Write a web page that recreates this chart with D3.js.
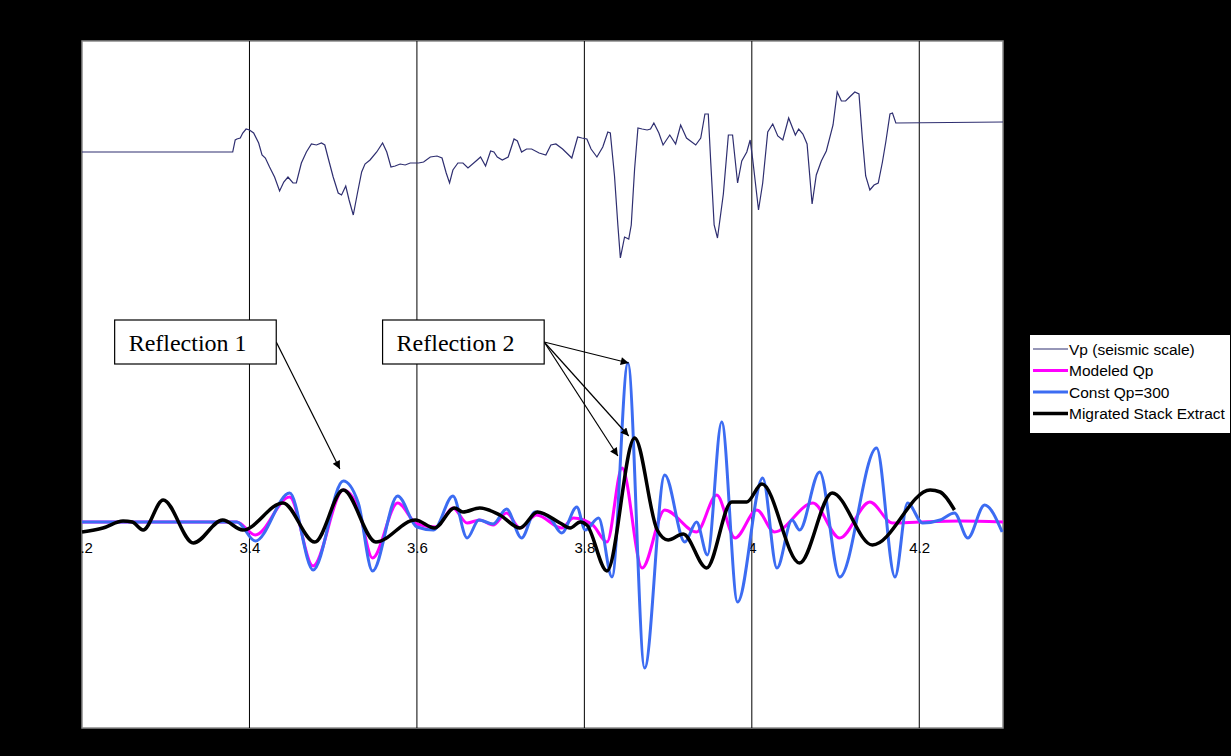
<!DOCTYPE html>
<html><head>
<meta charset="utf-8">
<script src="https://d3js.org/d3.v7.min.js"></script>
<style>
  body { margin: 0; background: #000; }
  .grid line { stroke: #000; stroke-width: 1px; }
  .xlabels text { font-family: Arial, "Liberation Sans", sans-serif; font-size: 15px; fill: #000; }
  .legend text { font-family: Arial, "Liberation Sans", sans-serif; font-size: 15.5px; fill: #000; }
  .note text { font-family: "Times New Roman", "Liberation Serif", serif; font-size: 24px; fill: #000; }
</style>
</head>
<body>
<svg id="chart" width="1231" height="756"></svg>
<script>

// time axis (s)
const timeTicks = [3.2, 3.4, 3.6, 3.8, 4.0, 4.2];
const gridTimes = [3.4, 3.6, 3.8, 4.0, 4.2];

const seriesNames = ["Vp (seismic scale)", "Modeled Qp", "Const Qp=300", "Migrated Stack Extract"];

// Vp log, drawn on the seismic amplitude scale  [time, value]
const vpLog = [
  [3.200, 3.70], [3.380, 3.70], [3.383, 3.82], [3.385, 3.83], [3.389, 3.84], [3.392, 3.89],
  [3.396, 3.93], [3.400, 3.92], [3.405, 3.89], [3.411, 3.79], [3.415, 3.67], [3.419, 3.64],
  [3.424, 3.55], [3.430, 3.45], [3.436, 3.31], [3.441, 3.40], [3.446, 3.45], [3.452, 3.39],
  [3.456, 3.39], [3.462, 3.59], [3.468, 3.70], [3.474, 3.78], [3.480, 3.77], [3.486, 3.79],
  [3.490, 3.77], [3.494, 3.64], [3.500, 3.45], [3.506, 3.29], [3.510, 3.27], [3.515, 3.36],
  [3.519, 3.22], [3.524, 3.07], [3.529, 3.29], [3.534, 3.50], [3.538, 3.58], [3.544, 3.62],
  [3.552, 3.70], [3.559, 3.79], [3.564, 3.70], [3.569, 3.55], [3.574, 3.56], [3.580, 3.58],
  [3.586, 3.57], [3.592, 3.59], [3.598, 3.59], [3.602, 3.59], [3.608, 3.60], [3.616, 3.65],
  [3.624, 3.66], [3.630, 3.64], [3.635, 3.49], [3.639, 3.39], [3.643, 3.52], [3.649, 3.59],
  [3.655, 3.59], [3.661, 3.54], [3.672, 3.62], [3.676, 3.65], [3.682, 3.56], [3.688, 3.71],
  [3.692, 3.70], [3.696, 3.65], [3.702, 3.62], [3.709, 3.65], [3.716, 3.83], [3.720, 3.81],
  [3.725, 3.70], [3.731, 3.73], [3.737, 3.73], [3.746, 3.69], [3.754, 3.67], [3.760, 3.77],
  [3.766, 3.78], [3.774, 3.73], [3.785, 3.64], [3.792, 3.85], [3.797, 3.84], [3.803, 3.83],
  [3.808, 3.73], [3.815, 3.65], [3.822, 3.75], [3.828, 3.90], [3.831, 3.89], [3.836, 3.46],
  [3.840, 2.97], [3.843, 2.64], [3.848, 2.85], [3.853, 2.83], [3.856, 2.97], [3.860, 3.53],
  [3.864, 3.94], [3.869, 3.93], [3.875, 3.92], [3.879, 3.93], [3.883, 3.99], [3.889, 3.89],
  [3.894, 3.77], [3.902, 3.87], [3.909, 3.78], [3.915, 3.97], [3.922, 3.84], [3.933, 3.77],
  [3.939, 3.84], [3.944, 4.08], [3.948, 4.08], [3.951, 3.59], [3.955, 2.97], [3.959, 2.84],
  [3.966, 3.28], [3.972, 3.87], [3.977, 3.87], [3.980, 3.63], [3.983, 3.39], [3.988, 3.61],
  [3.994, 3.70], [3.998, 3.82], [4.001, 3.63], [4.008, 3.12], [4.013, 3.39], [4.019, 3.90],
  [4.025, 3.98], [4.031, 3.86], [4.037, 3.82], [4.044, 4.04], [4.052, 3.87], [4.056, 3.93],
  [4.061, 3.88], [4.066, 3.78], [4.072, 3.18], [4.077, 3.47], [4.083, 3.61], [4.089, 3.71],
  [4.097, 3.97], [4.102, 4.30], [4.107, 4.21], [4.112, 4.21], [4.118, 4.26], [4.123, 4.30],
  [4.128, 4.28], [4.132, 3.84], [4.136, 3.46], [4.141, 3.32], [4.146, 3.37], [4.151, 3.39],
  [4.156, 3.60], [4.160, 3.80], [4.165, 4.08], [4.168, 4.09], [4.172, 3.99], [4.300, 4.00]
];

// Modeled Qp synthetic
const modeledQp = [
  [3.200, 0], [3.385, 0], [3.407, -0.13], [3.448, 0.25], [3.476, -0.44], [3.512, 0.32],
  [3.530, 0.14], [3.547, -0.36], [3.577, 0.19], [3.600, -0.02], [3.623, -0.05], [3.643, 0.14],
  [3.660, -0.01], [3.675, 0.02], [3.691, -0.03], [3.707, 0.09], [3.723, -0.06], [3.743, 0.07],
  [3.773, -0.06], [3.787, 0.04], [3.810, -0.03], [3.827, -0.20], [3.845, 0.54], [3.869, -0.46],
  [3.896, 0.12], [3.934, -0.10], [3.958, 0.27], [3.980, -0.16], [4.006, 0.12], [4.027, -0.10],
  [4.073, 0.19], [4.105, -0.16], [4.141, 0.20], [4.168, -0.01], [4.200, 0], [4.248, 0.01], [4.300, 0]
];

// Const Qp=300 synthetic
const constQp = [
  [3.200, 0], [3.385, 0], [3.407, -0.19], [3.448, 0.29], [3.476, -0.48], [3.512, 0.41],
  [3.530, 0.19], [3.547, -0.49], [3.577, 0.26], [3.600, -0.05], [3.620, -0.08], [3.643, 0.26],
  [3.660, -0.16], [3.674, 0.02], [3.691, -0.02], [3.707, 0.13], [3.725, -0.16], [3.741, 0.10],
  [3.759, 0.04], [3.773, -0.11], [3.791, 0.15], [3.801, -0.08], [3.817, 0.04], [3.833, -0.55],
  [3.852, 1.59], [3.872, -1.46], [3.896, 0.47], [3.920, -0.20], [3.934, 0.00], [3.947, -0.33],
  [3.964, 1.00], [3.983, -0.80], [4.013, 0.44], [4.030, -0.46], [4.048, 0.02], [4.057, -0.08],
  [4.081, 0.50], [4.105, -0.55], [4.149, 0.74], [4.171, -0.55], [4.186, 0.19], [4.204, -0.01],
  [4.225, 0.02], [4.242, 0.09], [4.258, -0.16], [4.278, 0.17], [4.299, -0.10]
];

// Migrated stack extract
const stackExtract = [
  [3.200, -0.10], [3.225, -0.06], [3.249, 0.01], [3.260, 0.00], [3.273, -0.08], [3.297, 0.22],
  [3.333, -0.21], [3.368, 0.02], [3.392, -0.08], [3.440, 0.19], [3.478, -0.20], [3.512, 0.32],
  [3.551, -0.20], [3.598, 0.02], [3.621, -0.06], [3.645, 0.14], [3.655, 0.10], [3.675, 0.14],
  [3.699, 0.07], [3.723, -0.06], [3.744, 0.10], [3.771, -0.01], [3.783, -0.06], [3.795, 0.00],
  [3.803, -0.03], [3.827, -0.49], [3.860, 0.84], [3.887, -0.08], [3.900, -0.18], [3.918, -0.12],
  [3.946, -0.46], [3.976, 0.20], [3.994, 0.20], [4.012, 0.38], [4.057, -0.41], [4.096, 0.29],
  [4.144, -0.23], [4.213, 0.32], [4.225, 0.30], [4.242, 0.12]
];

// callouts: label, tips [time, value]
const callouts = [
  { label: "Reflection 1", box: [3.239, 3.432], tips: [[3.508, 0.53]] },
  { label: "Reflection 2", box: [3.559, 3.752], tips: [[3.853, 1.59], [3.853, 0.86], [3.840, 0.66]] }
];
const calloutTop = 2.02, calloutBottom = 1.58;

const svg = d3.select("#chart");
svg.append("rect").attr("width", 1231).attr("height", 756).attr("fill", "#000");

const x = d3.scaleLinear().domain([3.2, 4.3]).range([82, 1003]);
const y = d3.scaleLinear().domain([-2.06, 4.81]).range([728, 41]);

// plot area
svg.append("rect")
  .attr("x", x(3.2)).attr("y", y(4.81))
  .attr("width", x(4.3) - x(3.2)).attr("height", y(-2.06) - y(4.81))
  .attr("fill", "#fff").attr("stroke", "#8a8a8a").attr("stroke-width", 1.5);

svg.append("g").attr("class", "grid")
  .selectAll("line").data(gridTimes).join("line")
  .attr("x1", d => x(d)).attr("x2", d => x(d))
  .attr("y1", y(4.81)).attr("y2", y(-2.06));

// time labels sit on the zero line
const xAxis = d3.axisBottom(x).tickValues(timeTicks).tickSize(0).tickPadding(20)
  .tickFormat(d => String(+d.toFixed(1)));
const ax = svg.append("g").attr("class", "xlabels")
  .attr("transform", "translate(0," + y(0) + ")")
  .call(xAxis);
ax.select(".domain").remove();
ax.selectAll("text").attr("font-family", null).attr("font-size", null);

const smooth = d3.line().x(d => x(d[0])).y(d => y(d[1])).curve(d3.curveMonotoneX);
const straight = d3.line().x(d => x(d[0])).y(d => y(d[1]));

svg.append("path").datum(vpLog).attr("d", straight)
  .attr("fill", "none").attr("stroke", "#2e2e70").attr("stroke-width", 1.2);
svg.append("path").datum(modeledQp).attr("d", smooth)
  .attr("fill", "none").attr("stroke", "#ff00ff").attr("stroke-width", 3);
svg.append("path").datum(constQp).attr("d", smooth)
  .attr("fill", "none").attr("stroke", "#3c6cf2").attr("stroke-width", 3);
svg.append("path").datum(stackExtract).attr("d", smooth)
  .attr("fill", "none").attr("stroke", "#000").attr("stroke-width", 3.5);

// arrowhead
svg.append("defs").append("marker")
  .attr("id", "arrow").attr("viewBox", "0 0 10 10")
  .attr("refX", 10).attr("refY", 5)
  .attr("markerWidth", 11).attr("markerHeight", 8)
  .attr("markerUnits", "userSpaceOnUse")
  .attr("orient", "auto")
  .append("path").attr("d", "M0,0 L10,5 L0,10 Z").attr("fill", "#000");

const notes = svg.append("g").attr("class", "note");
callouts.forEach(c => {
  const x0 = x(c.box[0]), x1 = x(c.box[1]);
  const y0 = y(calloutTop), y1 = y(calloutBottom);
  c.tips.forEach(t => {
    notes.append("line")
      .attr("x1", x1).attr("y1", (y0 + y1) / 2)
      .attr("x2", x(t[0])).attr("y2", y(t[1]))
      .attr("stroke", "#000").attr("stroke-width", 1.2)
      .attr("marker-end", "url(#arrow)");
  });
  notes.append("rect")
    .attr("x", x0).attr("y", y0).attr("width", x1 - x0).attr("height", y1 - y0)
    .attr("fill", "#fff").attr("stroke", "#000").attr("stroke-width", 1.2);
  notes.append("text").attr("x", x0 + 14).attr("y", y0 + 31).text(c.label);
});

// legend
const legendStyles = [
  { color: "#2e2e70", width: 1.2 },
  { color: "#ff00ff", width: 3 },
  { color: "#3c6cf2", width: 3 },
  { color: "#000", width: 3.5 }
];
const legend = svg.append("g").attr("class", "legend").attr("transform", "translate(1030,335)");
legend.append("rect").attr("width", 200).attr("height", 98).attr("fill", "#fff");
const item = legend.selectAll("g.item").data(seriesNames).join("g")
  .attr("class", "item")
  .attr("transform", (d, i) => "translate(0," + (14 + i * 21.5) + ")");
item.append("line").attr("x1", 3).attr("x2", 38)
  .attr("stroke", (d, i) => legendStyles[i].color)
  .attr("stroke-width", (d, i) => legendStyles[i].width);
item.append("text").attr("x", 39).attr("dy", "0.36em").text(d => d);

</script>
</body>
</html>
